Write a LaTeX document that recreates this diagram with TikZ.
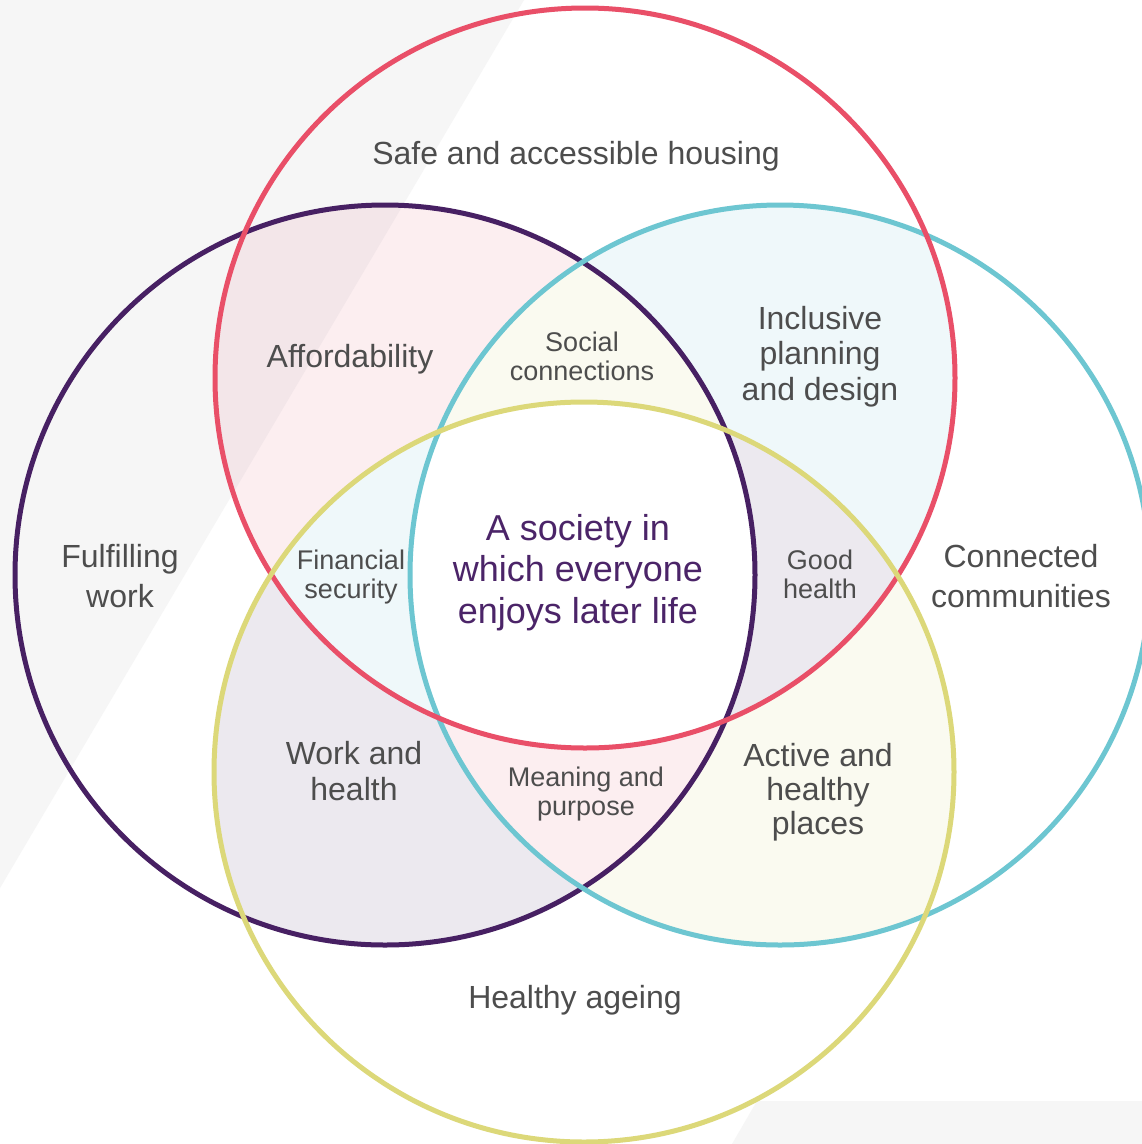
\documentclass[tikz,border=0pt]{standalone}
\usepackage{fontspec}
\setmainfont{Liberation Sans}
\definecolor{cred}{HTML}{E94F68}
\definecolor{cpurple}{HTML}{472063}
\definecolor{cteal}{HTML}{6DC6D1}
\definecolor{cyellow}{HTML}{DCD879}
\definecolor{ctext}{HTML}{4D4D4D}
\definecolor{ccentre}{HTML}{4B2468}
\definecolor{fpink}{HTML}{FCEEF0}
\definecolor{fblue}{HTML}{EFF8FA}
\definecolor{fyellow}{HTML}{FAFAF0}
\definecolor{fpurple}{HTML}{ECE9EF}
\definecolor{band}{HTML}{F6F6F6}
\definecolor{fpinkband}{HTML}{F3E6E9}
\begin{document}
\begin{tikzpicture}[x=1pt,y=-1pt,
  ring/.style={line width=5pt},
  lbl/.style={text=ctext, align=center, anchor=base, font=\fontsize{32}{35.5}\selectfont},
  lblwide/.style={lbl, font=\fontsize{32}{39.5}\selectfont},
  lblsmall/.style={lbl, font=\fontsize{27}{28.5}\selectfont},
  lblcentre/.style={lbl, text=ccentre, font=\fontsize{36}{41.5}\selectfont}]
\def\cR{(585,378) circle [radius=370pt]}
\def\cP{(385,575) circle [radius=370pt]}
\def\cT{(780,575) circle [radius=370pt]}
\def\cY{(584,772) circle [radius=370pt]}
\path[use as bounding box] (0,0) rectangle (1142,1144);
\fill[white] (0,0) rectangle (1142,1144);
% background bands
\fill[band] (0,0) -- (524,0) -- (0,888) -- cycle;
\fill[band] (757,1101) -- (1142,1101) -- (1142,1144) -- (732,1144) -- cycle;
% pairwise intersections
\begin{scope}\clip \cR; \fill[fpink] \cP; \end{scope}
\begin{scope}\clip \cR; \fill[fblue] \cT; \end{scope}
\begin{scope}\clip \cP; \fill[fpurple] \cY; \end{scope}
\begin{scope}\clip \cT; \fill[fyellow] \cY; \end{scope}
% band seen through the pink region
\begin{scope}\clip \cR; \clip \cP; \fill[fpinkband] (0,0) -- (524,0) -- (0,888) -- cycle; \end{scope}
% triple intersections
\begin{scope}\clip \cR; \clip \cP; \fill[fyellow] \cT; \end{scope}
\begin{scope}\clip \cR; \clip \cP; \fill[fblue] \cY; \end{scope}
\begin{scope}\clip \cR; \clip \cT; \fill[fpurple] \cY; \end{scope}
\begin{scope}\clip \cP; \clip \cT; \fill[fpink] \cY; \end{scope}
% centre
\begin{scope}\clip \cR; \clip \cP; \clip \cT; \fill[white] \cY; \end{scope}
% outlines
\draw[ring, cpurple] \cP;
\draw[ring, cteal] \cT;
\draw[ring, cred] \cR;
\draw[ring, cyellow] \cY;
% labels (multi-line nodes: base anchor = last line's baseline)
\node[lbl] (housing) at (576,164) {Safe and accessible housing};
\node[lbl] (afford) at (350,367) {Affordability};
\node[lblsmall] (social) at (582,380) {Social\\connections};
\node[lbl] (inclusive) at (820,400) {Inclusive\\planning\\and design};
\node[lblwide] (fulfil) at (120,607) {Fulfilling\\work};
\node[lblwide] (connected) at (1021,607) {Connected\\communities};
\node[lblcentre] (centre) at (578,623) {A society in\\which everyone\\enjoys later life};
\node[lblsmall] (finance) at (351,598) {Financial\\security};
\node[lblsmall] (goodhealth) at (820,598) {Good\\health};
\node[lbl] (workhealth) at (354,800) {Work and\\health};
\node[lblsmall] (meaning) at (586,815) {Meaning and\\purpose};
\node[lbl, font=\fontsize{32}{34}\selectfont] (active) at (818,834) {Active and\\healthy\\places};
\node[lbl] (ageing) at (575,1008) {Healthy ageing};
\end{tikzpicture}
\end{document}
